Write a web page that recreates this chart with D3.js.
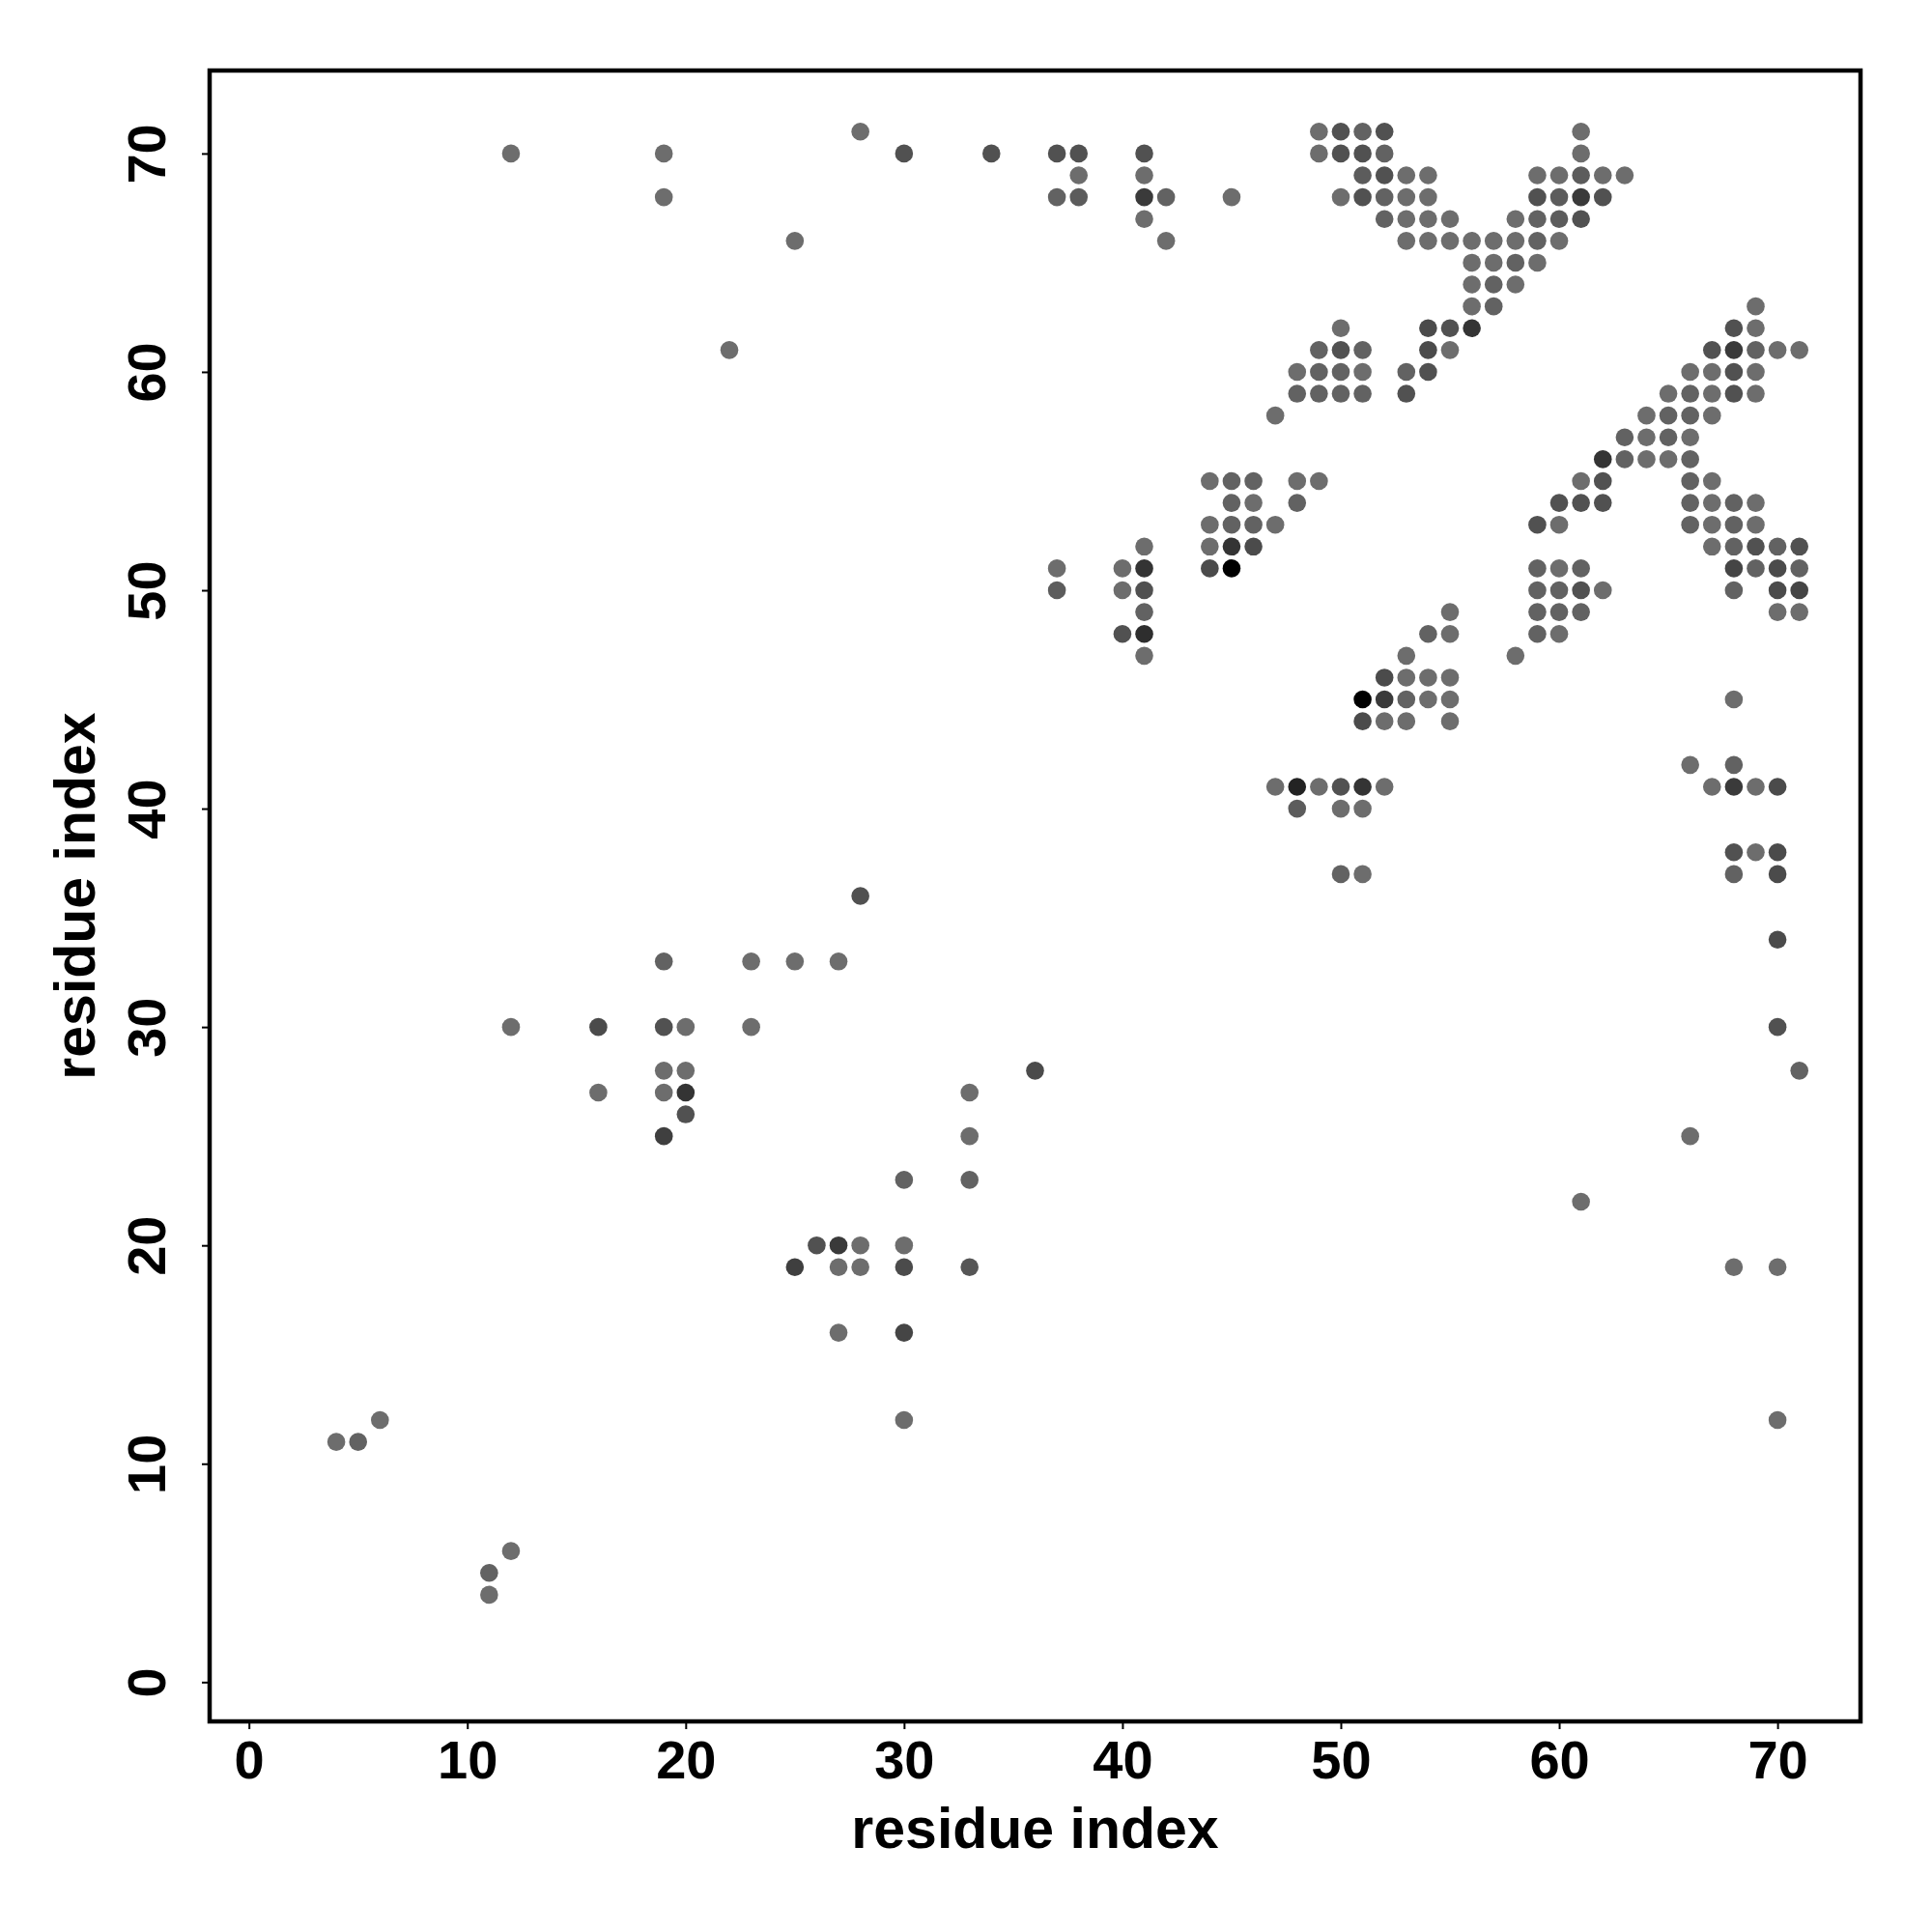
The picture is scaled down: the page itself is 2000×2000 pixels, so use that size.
<!DOCTYPE html>
<html>
<head>
<meta charset="utf-8">
<script src="https://cdn.jsdelivr.net/npm/d3@7"></script>
<style>
  html, body { margin: 0; padding: 0; background: #ffffff; }
  svg { display: block; }
  text { font-family: "Liberation Sans", Arial, Helvetica, sans-serif; font-weight: bold; fill: #000; }
</style>
</head>
<body>
<svg id="chart" width="2000" height="2000"></svg>
<script>
// ---- data ----
const tickValues = [0, 10, 20, 30, 40, 50, 60, 70];
const xLabel = "residue index";
const yLabel = "residue index";

// one entry per row (y residue)
const rowResidue = [71, 70, 69, 68, 67, 66, 65, 64, 63, 62, 61, 60, 59, 58, 57, 56, 55, 54, 53, 52, 51, 50, 49, 48, 47, 46, 45, 44, 42, 41, 40, 38, 37, 36, 34, 33, 30, 28, 27, 26, 25, 23, 22, 20, 19, 16, 12, 11, 6, 5, 4];

// partner residues (x) for each row
const partnerResidues = [
  [28, 49, 50, 51, 52, 61],
  [12, 19, 30, 34, 37, 38, 41, 49, 50, 51, 52, 61],
  [38, 41, 51, 52, 53, 54, 59, 60, 61, 62, 63],
  [19, 37, 38, 41, 42, 45, 50, 51, 52, 53, 54, 59, 60, 61, 62],
  [41, 52, 53, 54, 55, 58, 59, 60, 61],
  [25, 42, 53, 54, 55, 56, 57, 58, 59, 60],
  [56, 57, 58, 59],
  [56, 57, 58],
  [56, 57, 69],
  [50, 54, 55, 56, 68, 69],
  [22, 49, 50, 51, 54, 55, 67, 68, 69, 70, 71],
  [48, 49, 50, 51, 53, 54, 66, 67, 68, 69],
  [48, 49, 50, 51, 53, 65, 66, 67, 68, 69],
  [47, 64, 65, 66, 67],
  [63, 64, 65, 66],
  [62, 63, 64, 65, 66],
  [44, 45, 46, 48, 49, 61, 62, 66, 67],
  [45, 46, 48, 60, 61, 62, 66, 67, 68, 69],
  [44, 45, 46, 47, 59, 60, 66, 67, 68, 69],
  [41, 44, 45, 46, 67, 68, 69, 70, 71],
  [37, 40, 41, 44, 45, 59, 60, 61, 68, 69, 70, 71],
  [37, 40, 41, 59, 60, 61, 62, 68, 70, 71],
  [41, 55, 59, 60, 61, 70, 71],
  [40, 41, 54, 55, 59, 60],
  [41, 53, 58],
  [52, 53, 54, 55],
  [51, 52, 53, 54, 55, 68],
  [51, 52, 53, 55],
  [66, 68],
  [47, 48, 49, 50, 51, 52, 67, 68, 69, 70],
  [48, 50, 51],
  [68, 69, 70],
  [50, 51, 68, 70],
  [28],
  [70],
  [19, 23, 25, 27],
  [12, 16, 19, 20, 23, 70],
  [19, 20, 36, 71],
  [16, 19, 20, 33],
  [20],
  [19, 33, 66],
  [30, 33],
  [61],
  [26, 27, 28, 30],
  [25, 27, 28, 30, 33, 68, 70],
  [27, 30],
  [6, 30, 70],
  [4, 5],
  [12],
  [11],
  [11]
];

// contact strength (0 = weak / light grey, 1 = strong / black)
const contactScores = [
  [.05, .05, .3, .15, .3, .05],
  [.05, .05, .3, .3, .3, .3, .3, .05, .3, .3, .15, .05],
  [.05, .05, .2, .3, .05, .05, .05, .05, .2, .05, .05],
  [.05, .15, .2, .5, .15, .05, .05, .3, .15, .05, .05, .3, .2, .5, .3],
  [.05, .15, .05, .05, .05, .05, .15, .2, .3],
  [.05, .05, .05, .05, .05, .05, .05, .05, .15, .05],
  [.05, .05, .15, .05],
  [.05, .15, .05],
  [.05, .15, .05],
  [.05, .35, .3, .55, .3, .05],
  [.05, .15, .3, .15, .35, .05, .3, .5, .15, .05, .05],
  [.05, .15, .15, .05, .15, .3, .05, .05, .3, .05],
  [.15, .15, .15, .15, .3, .05, .15, .05, .3, .05],
  [.05, .05, .15, .15, .05],
  [.15, .05, .15, .05],
  [.55, .15, .05, .05, .15],
  [.05, .15, .15, .05, .05, .05, .3, .15, .05],
  [.15, .05, .15, .3, .3, .3, .15, .05, .15, .05],
  [.05, .15, .15, .05, .3, .05, .15, .05, .15, .05],
  [.05, .05, .55, .35, .05, .15, .3, .15, .3],
  [.05, .05, .55, .35, 1, .15, .05, .15, .4, .15, .35, .15],
  [.2, .05, .3, .15, .15, .3, .05, .15, .35, .4],
  [.15, .05, .15, .15, .15, .05, .05],
  [.3, .6, .15, .05, .15, .05],
  [.05, .05, .05],
  [.35, .05, .05, .05],
  [1, .5, .15, .05, .05, .05],
  [.35, .05, .05, .05],
  [.05, .15],
  [.05, .7, .05, .3, .55, .05, .05, .5, .05, .35],
  [.2, .05, .05],
  [.3, .05, .35],
  [.15, .05, .15, .35],
  [.3],
  [.35],
  [.15, .05, .05, .05],
  [.05, .35, .3, .05, .05, .3],
  [.05, .05, .35, .15],
  [.05, .05, .55, .05],
  [.3],
  [.45, .05, .05],
  [.15, .15],
  [.05],
  [.3, .5, .05, .05],
  [.45, .05, .05, .35, .25, .05, .05],
  [.05, .4],
  [.05, .05, .05],
  [.05, .15],
  [.05],
  [.15],
  [.05]
];

// ---- build point table ----
const points = [];
rowResidue.forEach((yv, r) => {
  partnerResidues[r].forEach((xv, k) => {
    points.push({ x: xv, y: yv, s: contactScores[r][k] });
  });
});

// ---- layout ----
const svg = d3.select("#chart");
const plot = { left: 217, right: 1926, top: 73, bottom: 1782 };
const domain = [-1.8, 73.8];

const x = d3.scaleLinear().domain(domain).range([plot.left, plot.right]);
const y = d3.scaleLinear().domain(domain).range([plot.bottom, plot.top]);
const grey = d3.scaleLinear().domain([0, 1]).range(["#737373", "#000000"]);

// points
svg.append("g")
  .selectAll("circle")
  .data(points)
  .join("circle")
  .attr("cx", d => x(d.x))
  .attr("cy", d => y(d.y))
  .attr("r", 9.3)
  .attr("fill", d => grey(d.s));

// x axis
const gx = svg.append("g")
  .attr("transform", `translate(0,${plot.bottom})`)
  .call(d3.axisBottom(x).tickValues(tickValues).tickSize(8).tickFormat(d3.format("d")));
gx.select(".domain").remove();
gx.selectAll(".tick line").attr("stroke", "#000").attr("stroke-width", 2);
gx.selectAll(".tick text")
  .attr("y", 59).attr("dy", 0)
  .attr("font-size", 56)
  .style("font-family", '"Liberation Sans", Arial, sans-serif')
  .style("font-weight", "bold")
  .attr("fill", "#000");

// y axis
const gy = svg.append("g")
  .attr("transform", `translate(${plot.left},0)`)
  .call(d3.axisLeft(y).tickValues(tickValues).tickSize(8).tickFormat(d3.format("d")));
gy.select(".domain").remove();
gy.selectAll(".tick line").attr("stroke", "#000").attr("stroke-width", 2);
gy.selectAll(".tick text")
  .attr("x", 0).attr("dy", 0)
  .attr("transform", "translate(-46,0) rotate(-90)")
  .attr("text-anchor", "middle")
  .attr("font-size", 56)
  .style("font-family", '"Liberation Sans", Arial, sans-serif')
  .style("font-weight", "bold")
  .attr("fill", "#000");

// frame
svg.append("rect")
  .attr("x", plot.left).attr("y", plot.top)
  .attr("width", plot.right - plot.left)
  .attr("height", plot.bottom - plot.top)
  .attr("fill", "none")
  .attr("stroke", "#000")
  .attr("stroke-width", 4.5);

// axis titles
svg.append("text")
  .attr("x", (plot.left + plot.right) / 2)
  .attr("y", 1913)
  .attr("text-anchor", "middle")
  .attr("font-size", 59)
  .text(xLabel);

svg.append("text")
  .attr("transform", `translate(98,${(plot.top + plot.bottom) / 2}) rotate(-90)`)
  .attr("text-anchor", "middle")
  .attr("font-size", 59)
  .text(yLabel);
</script>
</body>
</html>
